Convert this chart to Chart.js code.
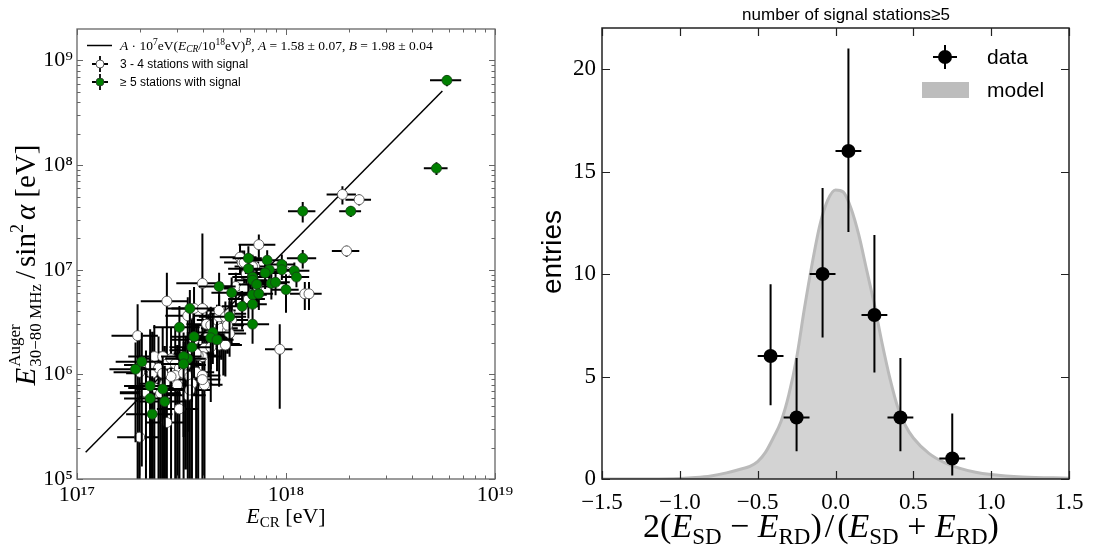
<!DOCTYPE html>
<html><head><meta charset="utf-8">
<script src="https://cdn.jsdelivr.net/npm/chart.js@4.4.1/dist/chart.umd.min.js"></script>
<style>
html,body{margin:0;padding:0;background:#fff;}
#wrap{position:relative;width:1095px;height:550px;overflow:hidden;}
#c1{position:absolute;left:0;top:0;}
#c2{position:absolute;left:530px;top:0;}
</style></head><body>
<div id="wrap"><canvas id="c1" width="530" height="550"></canvas><canvas id="c2" width="565" height="550"></canvas></div>
<script>
// ================= LEFT PANEL DATA (log10 of values) =================
const fitE = [1.1e17, 5.6e18];          // end points of the drawn fit line [eV]
const fitS = [1.8e5, 5.1e8];
const greenLog10E = [18.77,18.72,18.08,18.31,18.08,17.82,17.91,17.98,17.98,17.92,17.90,18.04,18.05,17.82,17.84,17.84,17.86,17.93,17.95,18.00,17.84,17.87,17.68,17.74,17.79,17.84,17.84,17.73,17.54,17.49,17.65,17.64,17.67,17.56,17.55,17.53,17.51,17.51,17.28,17.31,17.35,17.35,17.41,17.42,17.36];
const greenLog10S = [8.81,7.97,7.56,7.56,7.11,7.11,7.09,7.05,7.00,7.00,6.97,6.99,6.93,7.01,6.93,6.90,6.86,6.87,6.88,6.81,6.76,6.77,6.84,6.78,6.65,6.67,6.48,6.55,6.63,6.45,6.40,6.35,6.33,6.36,6.26,6.15,6.17,6.10,6.05,6.12,5.89,5.77,5.86,5.74,5.62];
const greenRelErrE = [0.17,0.13,0.15,0.12,0.16,0.16,0.17,0.15,0.15,0.18,0.2,0.18,0.15,0.2,0.2,0.18,0.18,0.17,0.17,0.15,0.17,0.17,0.2,0.2,0.2,0.17,0.2,0.2,0.22,0.25,0.2,0.2,0.2,0.22,0.22,0.22,0.22,0.22,0.25,0.25,0.25,0.25,0.25,0.25,0.25];
const greenRelErrS = [0.12,0.14,0.22,0.12,0.2,0.3,0.25,0.25,0.2,0.25,0.3,0.2,0.2,0.4,0.3,0.3,0.35,0.3,0.25,0.4,0.3,0.3,0.35,0.4,0.4,0.35,0.35,0.4,0.5,0.6,0.5,0.5,0.5,0.6,0.7,0.8,0.7,0.8,0.8,0.9,1.1,1.2,1.0,1.2,1.3];
const whiteLog10E = [18.27,18.35,18.29,17.87,17.78,17.79,17.85,17.81,18.09,18.11,17.97,17.60,17.43,17.29,17.30,17.43,17.53,17.49,17.53,17.56,17.62,17.64,17.67,17.68,17.69,17.72,17.73,17.70,17.68,17.71,17.63,17.61,17.60,17.58,17.56,17.55,17.37,17.35,17.36,17.33,17.37,17.39,17.41,17.43,17.45,17.47,17.49,17.47,17.45,17.41,17.42,17.40,17.48,17.51,17.52,17.54,17.55,17.54,17.57,17.60,17.61,17.60,17.64,17.57,17.60,17.68,17.71,17.74,17.73,17.72,17.76,17.80,17.82,17.86,17.84,17.80,18.00,17.33,17.30];
const whiteLog10S = [7.72,7.67,7.18,7.24,7.12,7.07,7.03,6.96,6.77,6.77,6.24,6.87,6.70,6.37,5.40,5.54,6.56,5.67,5.80,6.63,6.48,6.47,6.52,6.55,6.44,6.42,6.39,6.29,6.28,6.28,6.37,6.25,6.17,6.18,6.33,6.23,6.17,6.09,6.01,5.82,5.87,6.06,6.17,6.10,6.15,6.10,6.06,5.99,5.98,6.01,5.91,5.82,5.90,6.01,6.09,5.98,5.91,5.85,6.02,5.99,5.90,5.95,6.26,6.20,6.63,6.61,6.55,6.52,6.58,6.47,6.84,6.82,6.72,6.84,7.03,7.07,6.98,5.83,6.02];
const whiteRelErrE = [0.16,0.14,0.15,0.2,0.2,0.18,0.18,0.18,0.15,0.15,0.15,0.25,0.25,0.25,0.22,0.2,0.22,0.22,0.22,0.22,0.2,0.2,0.2,0.2,0.2,0.2,0.2,0.2,0.2,0.2,0.2,0.22,0.22,0.22,0.22,0.22,0.25,0.25,0.25,0.25,0.25,0.25,0.25,0.25,0.25,0.25,0.25,0.25,0.25,0.25,0.25,0.25,0.25,0.25,0.25,0.25,0.25,0.25,0.22,0.22,0.22,0.22,0.2,0.22,0.22,0.2,0.2,0.2,0.2,0.2,0.2,0.2,0.2,0.18,0.18,0.18,0.15,0.25,0.25];
const whiteRelErrS = [0.2,0.12,0.12,0.25,0.3,0.3,0.25,0.3,0.3,0.3,0.73,2.0,0.87,1.0,0.8,1.0,0.5,1.5,1.5,0.6,0.5,0.5,0.4,0.4,0.5,0.4,0.4,0.5,0.6,0.5,0.6,0.7,1.2,1.0,0.7,1.1,1.0,1.2,1.5,1.5,1.2,1.0,0.9,1.0,1.0,1.2,1.0,1.5,1.2,1.1,1.3,1.5,1.4,1.0,0.9,1.2,1.5,1.5,1.3,1.5,1.5,1.4,0.7,0.9,0.5,0.4,0.4,0.4,0.4,0.4,0.35,0.35,0.35,0.3,0.3,0.3,0.25,1.5,1.2];
const leftXTicks = [1e17, 1e18, 1e19];
const leftXTickLabels = ['10¹⁷', '10¹⁸', '10¹⁹'];
const leftYTicks = [1e5, 1e6, 1e7, 1e8, 1e9];
const leftYTickLabels = ['10⁵', '10⁶', '10⁷', '10⁸', '10⁹'];

// ================= RIGHT PANEL DATA =================
const binCenters = [-0.417, -0.25, -0.083, 0.083, 0.25, 0.417, 0.75];
const binHalfWidth = [0.083, 0.083, 0.083, 0.083, 0.083, 0.083, 0.083];
const entries = [6, 3, 10, 16, 8, 3, 1];
const entriesErrLow = [2.4, 1.65, 3.1, 3.95, 2.8, 1.65, 0.83];
const entriesErrHigh = [3.5, 2.9, 4.2, 5.0, 3.9, 2.9, 2.2];
const modelX = [-1.5,-1.2,-1.0,-0.9,-0.8,-0.7,-0.6,-0.55,-0.5,-0.45,-0.4,-0.35,-0.3,-0.25,-0.2,-0.15,-0.1,-0.05,0,0.05,0.1,0.15,0.2,0.25,0.3,0.35,0.4,0.45,0.5,0.6,0.7,0.8,0.9,1.0,1.2,1.5];
const modelY = [0,0.005,0.03,0.07,0.15,0.3,0.5,0.62,0.85,1.3,2.0,2.8,4.1,5.9,8.3,10.5,12.4,13.6,14.1,14.0,13.2,11.9,10.2,8.5,6.6,4.9,3.5,2.6,2.0,1.25,0.8,0.52,0.33,0.22,0.1,0.04];
const rightXTicks = [-1.5, -1.0, -0.5, 0.0, 0.5, 1.0, 1.5];
const rightXTickLabels = ['−1.5', '−1.0', '−0.5', '0.0', '0.5', '1.0', '1.5'];
const rightYTicks = [0, 5, 10, 15, 20];
const rightYTickLabels = ['0', '5', '10', '15', '20'];

// ================= helpers =================
const SERIF = '"Liberation Serif","DejaVu Serif",serif';
const SANS = '"Liberation Sans","DejaVu Sans",Arial,sans-serif';
const rm = s => s + 'px ' + SERIF;
const it = s => 'italic ' + s + 'px ' + SERIF;

function measureSegs(ctx, segs) {
  let w = 0;
  for (const s of segs) {
    if (s.stack) {
      let m = 0;
      for (const p of s.stack) { ctx.font = p.f; m = Math.max(m, ctx.measureText(p.t).width); }
      w += m + (s.gap || 0);
    } else { ctx.font = s.f; w += ctx.measureText(s.t).width + (s.gap || 0); }
  }
  return w;
}
function drawSegs(ctx, segs, x, y, align) {
  const w = measureSegs(ctx, segs);
  let cx = align === 'center' ? x - w / 2 : (align === 'right' ? x - w : x);
  ctx.textBaseline = 'alphabetic'; ctx.textAlign = 'left';
  for (const s of segs) {
    if (s.stack) {
      let m = 0;
      for (const p of s.stack) { ctx.font = p.f; ctx.fillText(p.t, cx, y + (p.dy || 0)); m = Math.max(m, ctx.measureText(p.t).width); }
      cx += m + (s.gap || 0);
    } else { ctx.font = s.f; ctx.fillText(s.t, cx, y + (s.dy || 0)); cx += ctx.measureText(s.t).width + (s.gap || 0); }
  }
}

function logPoints(lE, lS, fE, fS) {
  return lE.map((le, i) => {
    const x = Math.pow(10, le), y = Math.pow(10, lS[i]);
    const fe = fE[i] ?? 0.2, fs = fS[i] ?? 0.5;
    return { x, y, xlo: x * (1 - fe), xhi: x * (1 + fe), ylo: y * (1 - fs), yhi: y * (1 + fs) };
  });
}

const errorBars = {
  id: 'errorBars',
  beforeDatasetDraw(chart, args) {
    const ds = chart.data.datasets[args.index];
    if (!ds.err) return;
    const { ctx, chartArea: a } = chart;
    const xs = chart.scales.x, ys = chart.scales.y;
    const xLog = xs.type === 'logarithmic', yLog = ys.type === 'logarithmic';
    ctx.save();
    ctx.beginPath(); ctx.rect(a.left, a.top, a.right - a.left, a.bottom - a.top); ctx.clip();
    ctx.strokeStyle = ds.err.color; ctx.lineWidth = ds.err.width; ctx.lineCap = 'butt';
    ctx.beginPath();
    for (const p of ds.data) {
      const px = xs.getPixelForValue(p.x), py = ys.getPixelForValue(p.y);
      const x0 = (!xLog || p.xlo > 0) ? xs.getPixelForValue(p.xlo) : a.left - 5;
      const x1 = xs.getPixelForValue(p.xhi);
      const y0 = (!yLog || p.ylo > 0) ? ys.getPixelForValue(p.ylo) : a.bottom + 5;
      const y1 = ys.getPixelForValue(p.yhi);
      ctx.moveTo(x0, py); ctx.lineTo(x1, py);
      ctx.moveTo(px, y0); ctx.lineTo(px, y1);
    }
    ctx.stroke();
    ctx.restore();
  }
};

const frameTicks = {
  id: 'frameTicks',
  afterDatasetsDraw(chart, args, o) {
    const { ctx, chartArea: a } = chart;
    const xs = chart.scales.x, ys = chart.scales.y;
    ctx.save();
    ctx.strokeStyle = o.tickColor; ctx.lineWidth = o.tickWidth;
    ctx.beginPath();
    const vx = (vals, len) => vals.forEach(v => { const p = Math.round(xs.getPixelForValue(v)) + 0.5; ctx.moveTo(p, a.bottom); ctx.lineTo(p, a.bottom - len); ctx.moveTo(p, a.top); ctx.lineTo(p, a.top + len); });
    const vy = (vals, len) => vals.forEach(v => { const p = Math.round(ys.getPixelForValue(v)) + 0.5; ctx.moveTo(a.left, p); ctx.lineTo(a.left + len, p); ctx.moveTo(a.right, p); ctx.lineTo(a.right - len, p); });
    vx(o.xMajor, o.major); vx(o.xMinor || [], o.minor);
    vy(o.yMajor, o.major); vy(o.yMinor || [], o.minor);
    ctx.stroke();
    ctx.strokeStyle = o.frameColor; ctx.lineWidth = o.frameWidth;
    ctx.strokeRect(a.left, a.top, a.right - a.left, a.bottom - a.top);
    ctx.restore();
  }
};

function minorLog(d0, d1) { const out = []; for (let d = d0; d < d1; d++) for (let m = 2; m <= 9; m++) out.push(m * Math.pow(10, d)); return out; }

// ================= LEFT DECORATIONS =================
const leftDecor = {
  id: 'leftDecor',
  afterDraw(chart) {
    const ctx = chart.ctx;
    ctx.save();
    ctx.fillStyle = '#000';
    // x title
    drawSegs(ctx, [{ t: 'E', f: it(22) }, { t: 'CR', f: rm(15), dy: 4 }, { t: ' [eV]', f: rm(22) }], 286, 523, 'center');
    // y title
    ctx.save();
    ctx.translate(35, 265); ctx.rotate(-Math.PI / 2);
    drawSegs(ctx, [
      { t: 'E', f: it(29), gap: 1 },
      { stack: [{ t: 'Auger', f: rm(17), dy: -15 }, { t: '30−80 MHz', f: rm(17), dy: 6 }], gap: 5 },
      { t: '/', f: rm(29), gap: 4 },
      { t: 'sin', f: rm(29) }, { t: '2', f: rm(18), dy: -12, gap: 4 },
      { t: 'α', f: it(29) }, { t: ' [eV]', f: rm(29) }
    ], 0, 0, 'center');
    ctx.restore();
    // legend
    ctx.strokeStyle = '#000'; ctx.lineWidth = 1.5;
    ctx.beginPath(); ctx.moveTo(87, 45.5); ctx.lineTo(112, 45.5); ctx.stroke();
    drawSegs(ctx, [
      { t: 'A', f: it(13.5) }, { t: ' · 10', f: rm(13.5) }, { t: '7', f: rm(9.5), dy: -5 }, { t: 'eV(', f: rm(13.5) },
      { t: 'E', f: it(13.5) }, { t: 'CR', f: it(9.5), dy: 2 }, { t: '/10', f: rm(13.5) }, { t: '18', f: rm(9.5), dy: -5 },
      { t: 'eV)', f: rm(13.5) }, { t: 'B', f: it(9.5), dy: -5 }, { t: ', ', f: rm(13.5) }, { t: 'A', f: it(13.5) },
      { t: ' = 1.58 ± 0.07, ', f: rm(13.5) }, { t: 'B', f: it(13.5) }, { t: ' = 1.98 ± 0.04', f: rm(13.5) }
    ], 120, 50, 'left');
    const mk = (x, y, fill) => {
      ctx.strokeStyle = '#000'; ctx.lineWidth = 1.8;
      ctx.beginPath(); ctx.moveTo(x - 8, y); ctx.lineTo(x + 8, y); ctx.moveTo(x, y - 8); ctx.lineTo(x, y + 8); ctx.stroke();
      ctx.beginPath(); ctx.arc(x, y, 4, 0, Math.PI * 2); ctx.fillStyle = fill; ctx.fill();
      ctx.strokeStyle = '#333'; ctx.lineWidth = 0.8; ctx.stroke();
    };
    mk(100, 64, '#fff'); mk(100, 82, '#008000');
    ctx.fillStyle = '#000'; ctx.font = '12px ' + SANS; ctx.textBaseline = 'alphabetic';
    ctx.fillText('3 - 4 stations with signal', 120, 68);
    ctx.fillText('≥ 5 stations with signal', 120, 86);
    ctx.restore();
  }
};

new Chart(document.getElementById('c1'), {
  type: 'scatter',
  data: { datasets: [
    { type: 'line', label: 'fit', data: fitE.map((e, i) => ({ x: e, y: fitS[i] })), borderColor: '#000', borderWidth: 1.5, pointRadius: 0, fill: false, order: 3 },
    { label: '3 - 4 stations with signal', data: logPoints(whiteLog10E, whiteLog10S, whiteRelErrE, whiteRelErrS), backgroundColor: '#ffffff', borderColor: '#444', borderWidth: 0.8, pointRadius: 5, order: 2, err: { color: '#000', width: 2 } },
    { label: '≥ 5 stations with signal', data: logPoints(greenLog10E, greenLog10S, greenRelErrE, greenRelErrS), backgroundColor: '#008000', borderColor: '#163d16', borderWidth: 0.8, pointRadius: 5, order: 1, err: { color: '#000', width: 2 } }
  ] },
  options: {
    responsive: false, animation: false, events: [],
    layout: { padding: { top: 29, right: 35, left: 0, bottom: 0 } },
    plugins: { legend: { display: false }, tooltip: { enabled: false },
      frameTicks: { xMajor: leftXTicks, xMinor: minorLog(17, 19), yMajor: leftYTicks, yMinor: minorLog(5, 9), major: 6, minor: 3.5, tickColor: '#666', tickWidth: 1, frameColor: '#666', frameWidth: 1.3 } },
    scales: {
      x: { type: 'logarithmic', min: 1e17, max: 1e19,
        afterBuildTicks: s => { s.ticks = leftXTicks.map(v => ({ value: v })); },
        afterFit: s => { s.height = 71; },
        ticks: { autoSkip: false, maxRotation: 0, padding: 3, color: '#000', font: { family: SERIF, size: 22 }, callback: (v, i) => leftXTickLabels[i] },
        grid: { display: false, drawTicks: false }, border: { display: false } },
      y: { type: 'logarithmic', min: 1e5, max: 2e9,
        afterBuildTicks: s => { s.ticks = leftYTicks.map(v => ({ value: v })); },
        afterFit: s => { s.width = 77; },
        ticks: { autoSkip: false, padding: 4, color: '#000', font: { family: SERIF, size: 22 }, callback: (v, i) => leftYTickLabels[i] },
        grid: { display: false, drawTicks: false }, border: { display: false } }
    }
  },
  plugins: [errorBars, frameTicks, leftDecor]
});

// ================= RIGHT PANEL =================
const rightDecor = {
  id: 'rightDecor',
  afterDraw(chart) {
    const ctx = chart.ctx;
    ctx.save();
    ctx.fillStyle = '#000';
    ctx.font = '17px ' + SANS; ctx.textAlign = 'center'; ctx.textBaseline = 'alphabetic';
    ctx.fillText('number of signal stations≥5', 316, 20);
    // y title
    ctx.save(); ctx.translate(31, 252); ctx.rotate(-Math.PI / 2);
    ctx.font = '28px ' + SANS; ctx.textAlign = 'center'; ctx.fillText('entries', 0, 0);
    ctx.restore();
    // x title
    const S = 34, s = 23, d = 7;
    drawSegs(ctx, [
      { t: '2(', f: rm(S) }, { t: 'E', f: it(S) }, { t: 'SD', f: rm(s), dy: d }, { t: ' − ', f: rm(S) },
      { t: 'E', f: it(S) }, { t: 'RD', f: rm(s), dy: d }, { t: ')', f: rm(S), gap: 3 }, { t: '/', f: rm(S), gap: 3 },
      { t: '(', f: rm(S) }, { t: 'E', f: it(S) }, { t: 'SD', f: rm(s), dy: d }, { t: ' + ', f: rm(S) },
      { t: 'E', f: it(S) }, { t: 'RD', f: rm(s), dy: d }, { t: ')', f: rm(S) }
    ], 291, 537, 'center');
    // legend
    const lx = 415, ly = 57;
    ctx.strokeStyle = '#000'; ctx.lineWidth = 2;
    ctx.beginPath(); ctx.moveTo(lx - 12, ly); ctx.lineTo(lx + 12, ly); ctx.moveTo(lx, ly - 12); ctx.lineTo(lx, ly + 12); ctx.stroke();
    ctx.beginPath(); ctx.arc(lx, ly, 7, 0, Math.PI * 2); ctx.fillStyle = '#000'; ctx.fill();
    ctx.fillStyle = '#bdbdbd'; ctx.fillRect(392, 82, 47, 16);
    ctx.fillStyle = '#000'; ctx.font = '21px ' + SANS; ctx.textAlign = 'left';
    ctx.fillText('data', 457, 64);
    ctx.fillText('model', 457, 97);
    ctx.restore();
  }
};

new Chart(document.getElementById('c2'), {
  type: 'scatter',
  data: { datasets: [
    { type: 'line', label: 'model', data: modelX.map((x, i) => ({ x, y: modelY[i] })), borderColor: '#bababa', borderWidth: 3, backgroundColor: '#d3d3d3', fill: 'origin', pointRadius: 0, cubicInterpolationMode: 'monotone', order: 2 },
    { label: 'data', data: binCenters.map((x, i) => ({ x, y: entries[i], xlo: x - binHalfWidth[i], xhi: x + binHalfWidth[i], ylo: entries[i] - entriesErrLow[i], yhi: entries[i] + entriesErrHigh[i] })),
      backgroundColor: '#000', borderColor: '#000', borderWidth: 0, pointRadius: 7, order: 1, err: { color: '#000', width: 2 } }
  ] },
  options: {
    responsive: false, animation: false, events: [],
    layout: { padding: { top: 28, right: 26, left: 0, bottom: 0 } },
    plugins: { legend: { display: false }, tooltip: { enabled: false },
      frameTicks: { xMajor: rightXTicks, yMajor: rightYTicks, major: 8, minor: 0, tickColor: '#222', tickWidth: 1.2, frameColor: '#222', frameWidth: 1.5 } },
    scales: {
      x: { type: 'linear', min: -1.5, max: 1.5,
        afterBuildTicks: s => { s.ticks = rightXTicks.map(v => ({ value: v })); },
        afterFit: s => { s.height = 71; },
        ticks: { autoSkip: false, maxRotation: 0, padding: 10, color: '#000', font: { family: SERIF, size: 23 }, callback: (v, i) => rightXTickLabels[i] },
        grid: { display: false, drawTicks: false }, border: { display: false } },
      y: { type: 'linear', min: 0, max: 22,
        afterBuildTicks: s => { s.ticks = rightYTicks.map(v => ({ value: v })); },
        afterFit: s => { s.width = 72; },
        ticks: { autoSkip: false, padding: 6, color: '#000', font: { family: SERIF, size: 23 }, callback: (v, i) => rightYTickLabels[i] },
        grid: { display: false, drawTicks: false }, border: { display: false } }
    }
  },
  plugins: [errorBars, frameTicks, rightDecor]
});
</script>
</body></html>
